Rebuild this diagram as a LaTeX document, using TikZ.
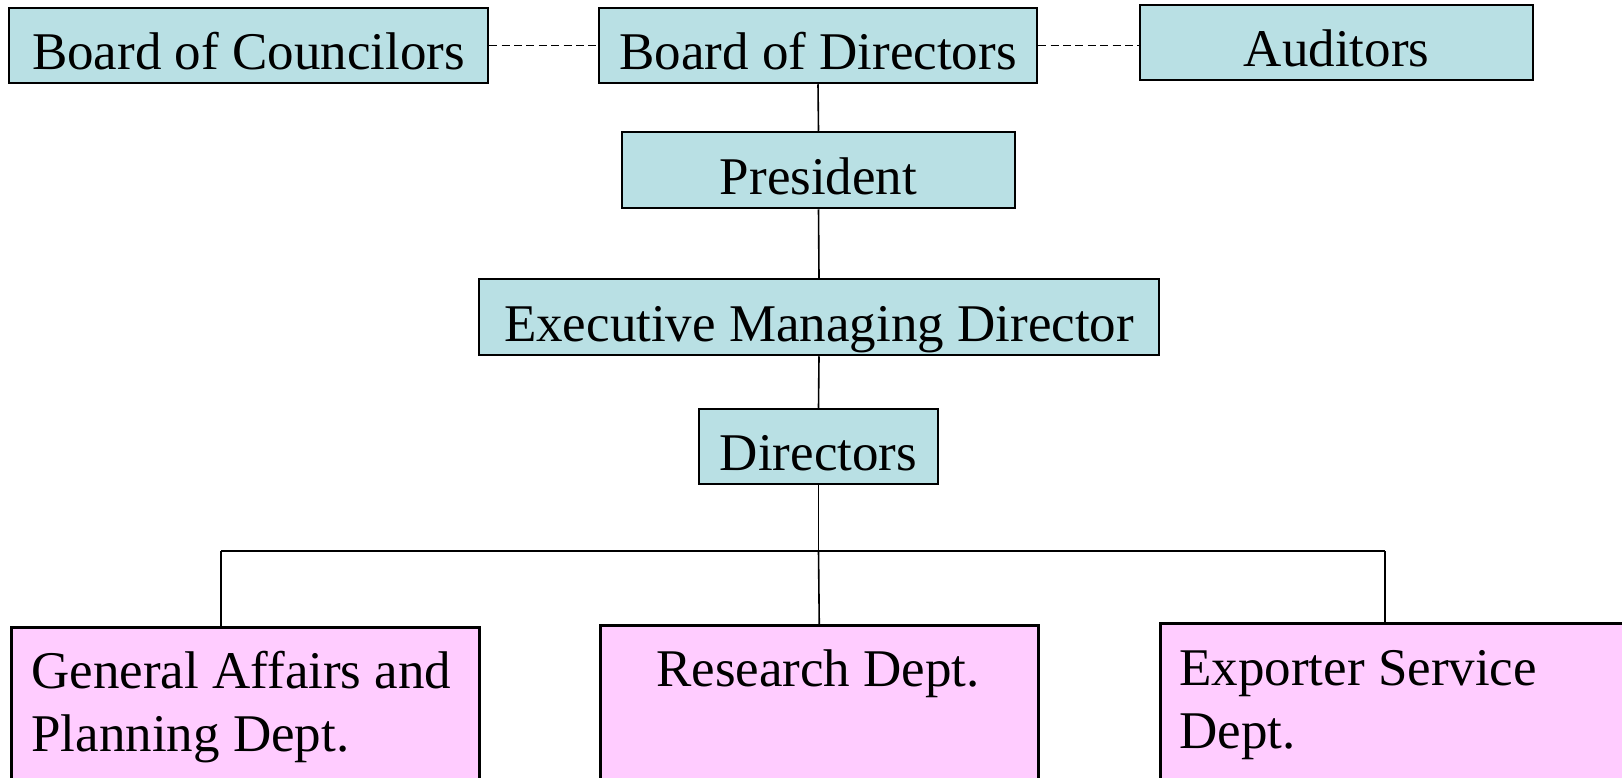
\documentclass[tikz,border=0pt]{standalone}
\usepackage{fontspec}
\setmainfont{Liberation Serif}
\newcommand\upx{*0.5pt}
\definecolor{teal1}{RGB}{185,224,228}
\definecolor{pink1}{RGB}{255,204,255}
\tikzset{
  tbox/.style={draw=black, line width=1.25pt, fill=teal1, inner sep=0pt,
     text height=26pt, text depth=2pt, font=\fontsize{26.5}{32}\selectfont},
  pbox/.style={draw=black, line width=1.25pt, fill=pink1, inner sep=0pt, anchor=north west},
  ptext/.style={inner sep=0pt, anchor=base west, font=\fontsize{26.5}{32}\selectfont},
  conn/.style={draw=black, line width=0.8pt},
  dconn/.style={draw=black, line width=0.8pt, dash pattern=on 4pt off 2.2pt}
}
\begin{document}
\begin{tikzpicture}[x=0.5pt, y=-0.5pt]
\useasboundingbox (0,0) rectangle (1622,777);
\clip (0,0) rectangle (1622,777);
% top row
\node[tbox, minimum width=479\upx, minimum height=75\upx] (boc) at (248.5,45.5) {Board of Councilors};
\node[tbox, minimum width=438\upx, minimum height=75\upx] (bod) at (818,45.5) {Board of Directors};
\node[tbox, minimum width=393\upx, minimum height=75\upx] (aud) at (1336.5,42.5) {Auditors};
\node[tbox, minimum width=393\upx, minimum height=76\upx] (pres) at (818.5,170) {President};
\node[tbox, minimum width=680\upx, minimum height=76\upx] (emd) at (819,317) {Executive Managing Director};
\node[tbox, minimum width=239\upx, minimum height=75\upx] (dir) at (818.5,446.5) {Directors};
% departments
\node[pbox, minimum width=468\upx, minimum height=200\upx] (ga) at (10,626) {};
\node[pbox, minimum width=438\upx, minimum height=200\upx] (res) at (599,624) {};
\node[pbox, minimum width=500\upx, minimum height=200\upx] (exp) at (1159,622) {};
\node[ptext] (ga1) at (31,688) {General Affairs and};
\node[ptext] (ga2) at (31,751) {Planning Dept.};
\node[ptext, anchor=base] (res1) at (818,686) {Research Dept.};
\node[ptext] (exp1) at (1179,685) {Exporter Service};
\node[ptext] (exp2) at (1179,748) {Dept.};
% connectors
\draw[dconn] (boc.east) -- (bod.west);
\draw[dconn] (bod.east) -- (bod.east -| aud.west);
\draw[conn] (bod.south) -- (pres.north);
\draw[conn] (pres.south) -- (emd.north);
\draw[conn] (emd.south) -- (dir.north);
\coordinate (hl) at (221,551);
\coordinate (hm) at (818.5,551);
\coordinate (hr) at (1385,551);
\draw[conn] (dir.south) -- (hm);
\draw[conn] (hl) -- (hr);
\draw[conn] (hl) -- (hl |- ga.north);
\draw[conn] (hm) -- (res.north);
\draw[conn] (hr) -- (hr |- exp.north);
\end{tikzpicture}
\end{document}
